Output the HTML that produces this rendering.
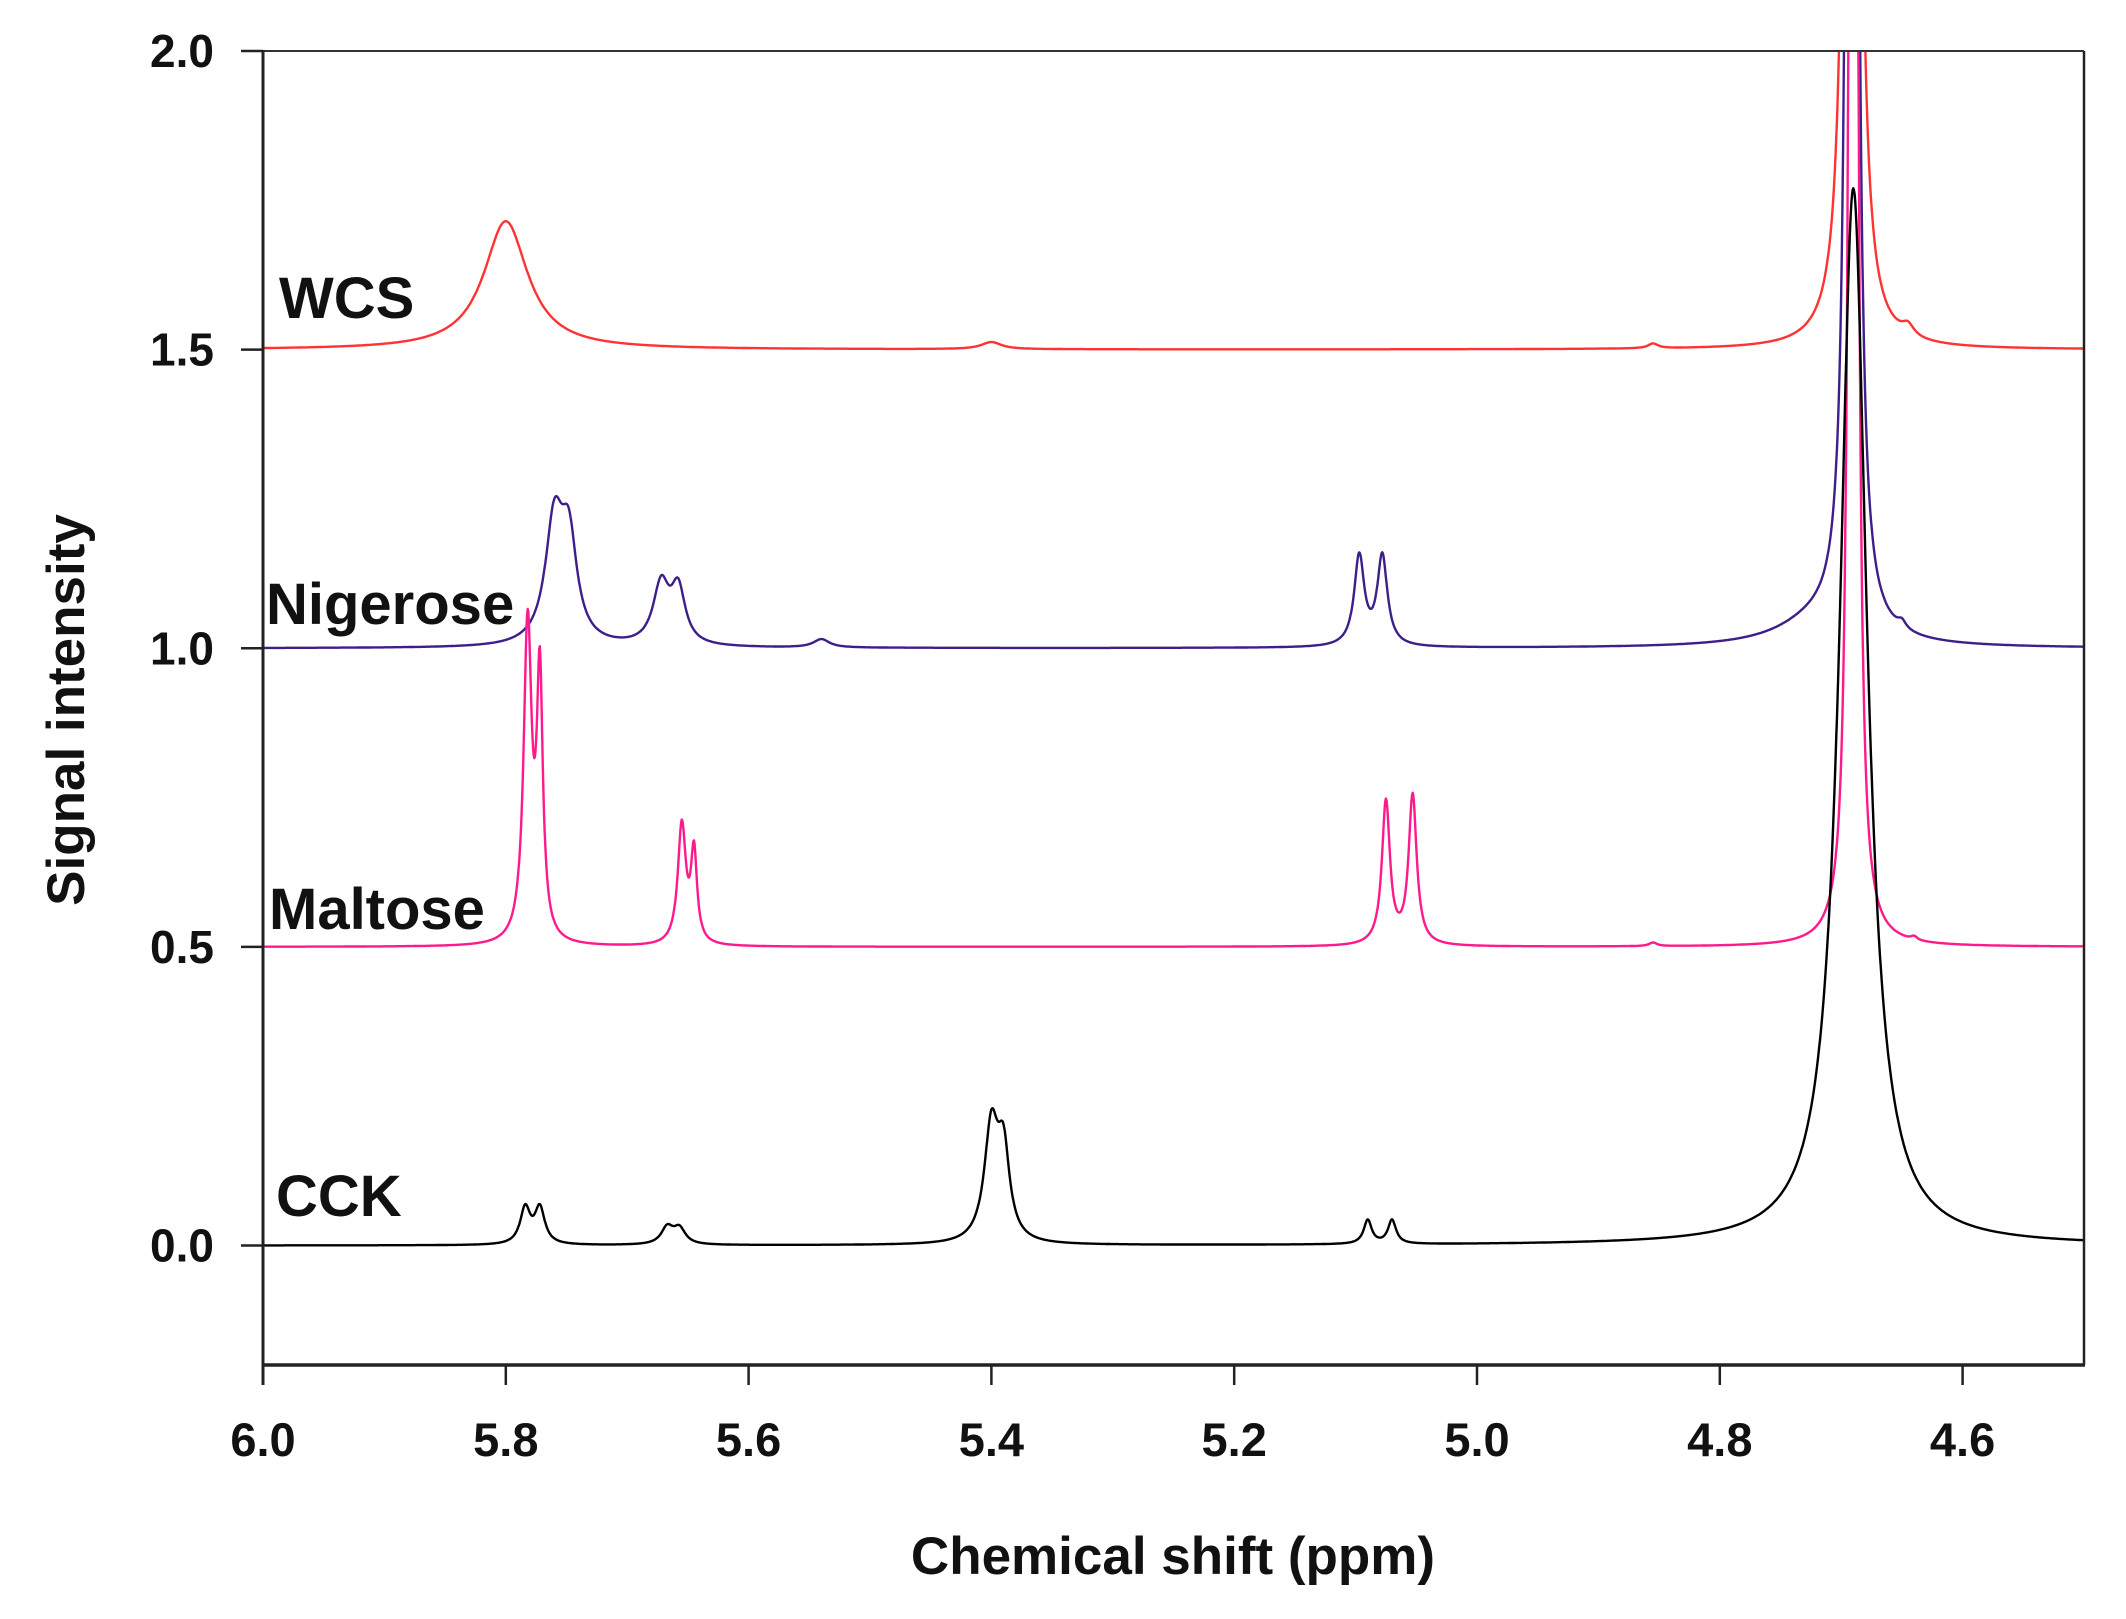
<!DOCTYPE html>
<html><head><meta charset="utf-8"><style>
html,body{margin:0;padding:0;background:#fff}
svg{display:block}
text{font-family:"Liberation Sans",Arial,sans-serif;font-weight:bold;fill:#111}
</style></head><body>
<svg id="chart" width="2126" height="1619" viewBox="0 0 2126 1619">
<defs><clipPath id="plotclip"><rect x="263" y="51" width="1821" height="1314"/></clipPath></defs>
<g id="series" clip-path="url(#plotclip)"></g>
<g id="axes"></g>
<text x="279" y="318" font-size="58">WCS</text>
<text x="266" y="624" font-size="58">Nigerose</text>
<text x="269" y="929" font-size="58">Maltose</text>
<text x="276" y="1216" font-size="58">CCK</text>
<text x="1173" y="1574" font-size="53" text-anchor="middle">Chemical shift (ppm)</text>
<text transform="translate(84,710) rotate(-90)" font-size="53" text-anchor="middle">Signal intensity</text>
</svg>
<script>
// ---- data (peak lists) ----
const xTicks = [6.0, 5.8, 5.6, 5.4, 5.2, 5.0, 4.8, 4.6];
const yTicks = [0.0, 0.5, 1.0, 1.5, 2.0];
const seriesNames = ["WCS", "Nigerose", "Maltose", "CCK"];
const seriesOffsets = [1.5, 1.0, 0.5, 0.0];
const seriesColors = ["#ff3333", "#3d1f8a", "#ff1a8c", "#000000"];
// peaks: ppm positions, heights, half-widths (ppm)
const wcsPpm = [5.800, 5.400, 4.855, 4.691, 4.645];
const wcsHeight = [0.215, 0.012, 0.008, 10.0, 0.018];
const wcsWidth = [0.022, 0.010, 0.005, 0.0025, 0.006];
const nigPpm = [5.760, 5.748, 5.672, 5.658, 5.540, 5.097, 5.078, 4.691, 4.720, 4.650];
const nigHeight = [0.20, 0.16, 0.10, 0.09, 0.014, 0.15, 0.15, 10.0, 0.04, 0.012];
const nigWidth = [0.009, 0.008, 0.008, 0.007, 0.008, 0.005, 0.005, 0.0022, 0.04, 0.004];
const malPpm = [5.782, 5.772, 5.655, 5.645, 5.075, 5.053, 4.855, 4.690, 4.640];
const malHeight = [0.53, 0.43, 0.20, 0.15, 0.24, 0.25, 0.006, 10.0, 0.006];
const malWidth = [0.004, 0.003, 0.004, 0.003, 0.004, 0.004, 0.004, 0.0018, 0.003];
const cckPpm = [5.784, 5.772, 5.667, 5.657, 5.400, 5.390, 5.090, 5.070, 4.690];
const cckHeight = [0.06, 0.06, 0.028, 0.026, 0.19, 0.14, 0.04, 0.04, 1.77];
const cckWidth = [0.005, 0.005, 0.006, 0.006, 0.007, 0.006, 0.004, 0.004, 0.0135];
const xMin = 6.0, xMax = 4.5, yMin = -0.2, yMax = 2.0;

const L = 263, R = 2084, T = 51, B = 1365;
const NS = "http://www.w3.org/2000/svg";
function xs(p){ return L + (xMin - p) / (xMin - xMax) * (R - L); }
function ys(v){ return B - (v - yMin) / (yMax - yMin) * (B - T); }
function mk(tag, attrs, parent){ const e = document.createElementNS(NS, tag); for (const k in attrs) e.setAttribute(k, attrs[k]); parent.appendChild(e); return e; }

const peakSets = [[wcsPpm, wcsHeight, wcsWidth],[nigPpm, nigHeight, nigWidth],[malPpm, malHeight, malWidth],[cckPpm, cckHeight, cckWidth]];
const sg = document.getElementById('series');
for (let s = 0; s < 4; s++) {
  const [pp, hh, ww] = peakSets[s];
  let d = "";
  for (let i = 0; i <= 3000; i++) {
    const p = xMin - i * 0.0005;
    let v = seriesOffsets[s];
    for (let k = 0; k < pp.length; k++) { const dx = p - pp[k]; v += hh[k] * ww[k] * ww[k] / (dx * dx + ww[k] * ww[k]); }
    const yy = Math.max(ys(v), 20);
    d += (i ? "L" : "M") + xs(p).toFixed(1) + "," + yy.toFixed(1);
  }
  const path = mk('path', {d: d, fill: 'none', stroke: seriesColors[s], 'stroke-width': 2.4, 'stroke-linejoin': 'round'}, sg);
  
  
}

const ax = document.getElementById('axes');
mk('line', {x1: L, y1: T, x2: R, y2: T, stroke: '#333', 'stroke-width': 2}, ax);
mk('line', {x1: R, y1: T, x2: R, y2: B, stroke: '#222', 'stroke-width': 2.5}, ax);
mk('line', {x1: L, y1: T - 1, x2: L, y2: B + 20, stroke: '#222', 'stroke-width': 3}, ax);
mk('line', {x1: L, y1: B, x2: R + 1, y2: B, stroke: '#222', 'stroke-width': 3.5}, ax);
for (const t of xTicks) {
  const x = xs(t);
  const tk = mk('line', {x1: x, y1: B, x2: x, y2: B + 20, stroke: '#222', 'stroke-width': 2.5}, ax);
  
  
  const lb = mk('text', {x: x, y: 1456, 'font-size': 47, 'text-anchor': 'middle'}, ax);
  lb.textContent = t.toFixed(1);
  
  
}
for (const t of yTicks) {
  const y = ys(t);
  const tk = mk('line', {x1: L - 22, y1: y, x2: L, y2: y, stroke: '#222', 'stroke-width': 2.5}, ax);
  
  
  const lb = mk('text', {x: 214, y: y + 16, 'font-size': 46, 'text-anchor': 'end'}, ax);
  lb.textContent = t.toFixed(1);
  
  
}
</script>
</body></html>
